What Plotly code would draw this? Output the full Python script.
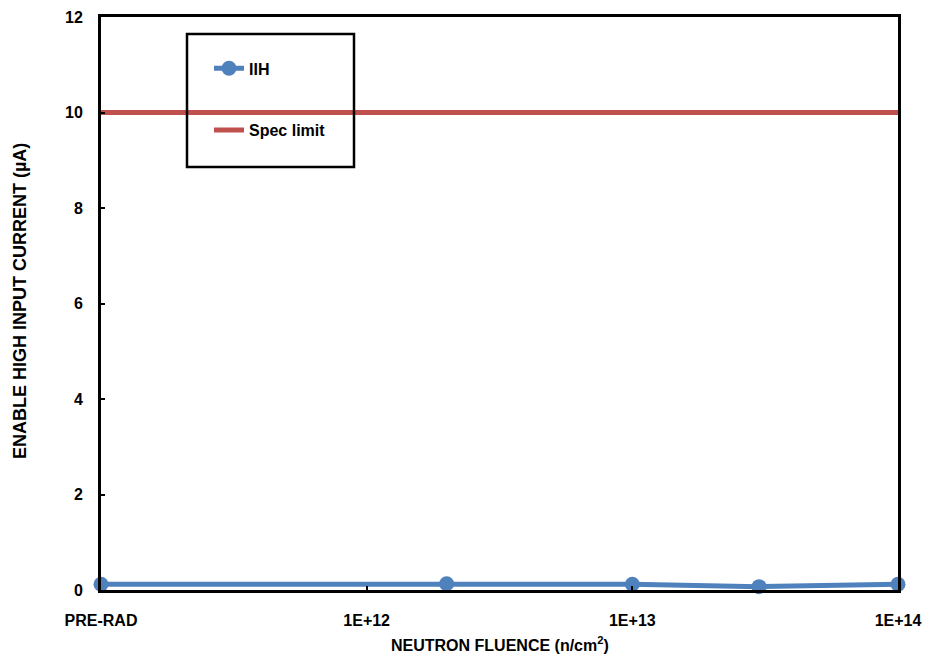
import plotly.graph_objects as go

# Data
fluence = [1e11, 2e12, 1e13, 3e13, 1e14]   # PRE-RAD plotted at 1E+11 position
iih = [0.12, 0.13, 0.12, 0.07, 0.12]
spec_x = [1e11, 1e14]
spec_y = [10, 10]
x_tickvals = [1e11, 1e12, 1e13, 1e14]
x_ticktext = ["PRE-RAD", "1E+12", "1E+13", "1E+14"]
y_tickvals = [0, 2, 4, 6, 8, 10, 12]

BLUE = "#4F81BD"
RED = "#C0504D"
FONT = "Liberation Sans"

fig = go.Figure()
fig.add_trace(go.Scatter(
    x=fluence, y=iih, name="<b>IIH</b>", mode="lines+markers",
    line=dict(color=BLUE, width=5), marker=dict(color=BLUE, size=15),
    legendgroup="a", cliponaxis=False,
))
fig.add_trace(go.Scatter(
    x=spec_x, y=spec_y, name="<b>Spec limit</b>", mode="lines",
    line=dict(color=RED, width=5), legendgroup="b", cliponaxis=False,
))

PW, PH, L, B = 797, 573, 101, 590

fig.update_layout(
    width=925, height=656,
    margin=dict(l=101, r=27, t=17, b=66, autoexpand=False),
    plot_bgcolor="white", paper_bgcolor="white",
    font=dict(family=FONT, size=16, color="black"),
    showlegend=True,
    legend=dict(
        x=(209 - L) / PW, y=0.94, xanchor="left", yanchor="top",
        bgcolor="rgba(0,0,0,0)", borderwidth=0,
        tracegroupgap=38, traceorder="grouped",
        font=dict(family=FONT, size=16, color="black"),
    ),
    shapes=[dict(type="rect", xref="paper", yref="paper",
                 x0=(187 - L) / PW, x1=(354 - L) / PW,
                 y0=(B - 167) / PH, y1=(B - 34) / PH,
                 line=dict(color="black", width=2.5), fillcolor="rgba(0,0,0,0)")],
    annotations=[
        dict(text="<b>NEUTRON FLUENCE (n/cm<sup>2</sup>)</b>", xref="paper", yref="paper",
             x=0.5, y=0, xanchor="center", yanchor="middle", yshift=-54,
             showarrow=False, font=dict(family=FONT, size=16, color="black")),
        dict(text="<b>ENABLE HIGH INPUT CURRENT (µA)</b>", xref="paper", yref="paper",
             x=0, y=(B - 301) / PH, xanchor="center", yanchor="middle", xshift=-81,
             textangle=-90, showarrow=False,
             font=dict(family=FONT, size=18, color="black")),
    ],
)

fig.update_xaxes(
    type="log", range=[11, 14], automargin=False,
    tickvals=x_tickvals, ticktext=x_ticktext,
    ticks="inside", ticklen=4, tickwidth=2, tickcolor="black",
    showgrid=False, zeroline=False,
    showline=True, linecolor="black", linewidth=3, mirror=True,
    tickfont=dict(family=FONT, size=16, color="black", weight="bold"),
    ticklabelstandoff=14,
)
fig.update_yaxes(
    range=[0, 12], tickvals=y_tickvals, automargin=False,
    ticks="inside", ticklen=4, tickwidth=2, tickcolor="black",
    showgrid=False, zeroline=False,
    showline=True, linecolor="black", linewidth=3, mirror=True,
    tickfont=dict(family=FONT, size=16, color="black", weight="bold"),
    ticklabelstandoff=12,
)

fig.write_html("out.html", config={"displayModeBar": False},
               post_script="document.body.style.margin='0';document.body.style.padding='0';")
